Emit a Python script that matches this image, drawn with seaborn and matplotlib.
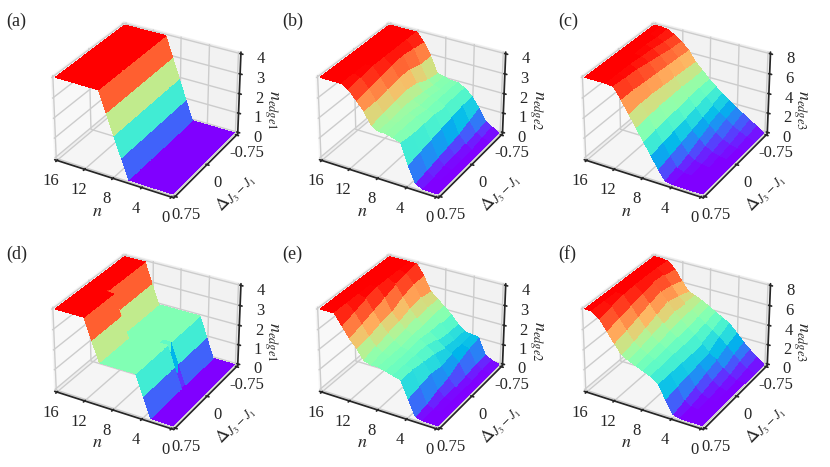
import numpy as np
import matplotlib
matplotlib.use("Agg")
import matplotlib.pyplot as plt
import seaborn as sns

# n axis (0..16) and Delta_{J3-J1} grid
n_vals = [0, 1, 2, 3, 4, 5, 6, 7, 8, 9, 10, 11, 12, 13, 14, 15, 16]
delta7 = [-0.75, -0.5, -0.25, 0.0, 0.25, 0.5, 0.75]

# (a) n_edge1, same profile for every Delta
a_profile = [0, 0, 0, 0, 0, 0, 0, 1, 2, 3, 4, 4, 4, 4, 4, 4, 4]

# (b) n_edge2, rows from Delta=-0.75 to 0.75
b_table = [
    [0, 0.2, 0.4, 1.0, 1.5, 1.8, 2.0, 2.0, 2.1, 2.2, 3.0, 3.6, 4, 4, 4, 4, 4],
    [0, 0.1, 0.3, 0.8, 1.5, 1.8, 2.0, 2.0, 2.1, 2.3, 3.0, 3.7, 4, 4, 4, 4, 4],
    [0, 0, 0.2, 0.6, 1.4, 1.8, 2.0, 2.1, 2.2, 2.6, 3.2, 3.8, 4, 4, 4, 4, 4],
    [0, 0, 0.1, 0.5, 1.3, 1.9, 2.0, 2.1, 2.3, 2.7, 3.2, 3.7, 4, 4, 4, 4, 4],
    [0, 0, 0.1, 0.4, 1.2, 1.9, 2.1, 2.2, 2.3, 2.6, 3.1, 3.6, 4, 4, 4, 4, 4],
    [0, 0, 0, 0.3, 1.1, 1.9, 2.1, 2.2, 2.2, 2.5, 3.0, 3.5, 3.9, 4, 4, 4, 4],
    [0, 0, 0, 0.2, 1.0, 2.0, 2.1, 2.2, 2.2, 2.4, 3.0, 3.4, 3.8, 4, 4, 4, 4],
]

# (c) n_edge3
c_table = [
    [0, 0.45, 0.9, 1.35, 1.8, 2.3, 2.8, 3.4, 4.0, 4.7, 5.4, 6.4, 7.0, 7.5, 7.9, 8, 8],
    [0, 0.3, 0.6, 1.0, 1.5, 2.0, 2.6, 3.3, 4.0, 4.7, 5.5, 6.5, 7.1, 7.6, 7.9, 8, 8],
    [0, 0.1, 0.3, 0.6, 1.1, 1.7, 2.3, 3.1, 3.9, 4.8, 5.6, 6.6, 7.3, 7.8, 8, 8, 8],
    [0, 0, 0.1, 0.3, 0.7, 1.3, 2.0, 2.9, 3.8, 4.8, 5.7, 6.7, 7.5, 7.9, 8, 8, 8],
    [0, 0, 0, 0.1, 0.3, 0.8, 1.7, 2.7, 3.7, 4.8, 5.8, 6.8, 7.7, 8, 8, 8, 8],
    [0, 0, 0, 0, 0.1, 0.4, 1.4, 2.5, 3.6, 4.7, 5.8, 6.9, 7.8, 8, 8, 8, 8],
    [0, 0, 0, 0, 0, 0.1, 1.1, 2.3, 3.4, 4.6, 5.7, 6.9, 7.9, 8, 8, 8, 8],
]

# (d) n_edge1, built from three row profiles
d_back = [0, 0, 0, 0, 1, 2, 2, 2, 2, 2, 2, 2, 3, 4, 4, 4, 4]
d_vee = [0, 0, 0, 0, 0, 1, 2, 2, 2, 2, 2, 2, 3, 4, 4, 4, 4]
d_front = [0, 0, 0, 0, 1, 2, 2, 2, 2, 2, 2, 3, 4, 4, 4, 4, 4]
d_delta = [-0.75, -0.04, 0.0, 0.04, 0.08, 0.12, 0.75]
d_rows = [d_back, d_back, d_vee, d_back, d_back, d_front, d_front]

# (e) n_edge2
e_table = [
    [0, 0.1, 0.3, 1.1, 1.15, 1.2, 1.5, 1.9, 2.2, 2.5, 2.8, 3.5, 4, 4, 4, 4, 4],
    [0, 0.1, 0.3, 1.0, 1.1, 1.2, 1.5, 1.9, 2.2, 2.5, 2.9, 3.5, 3.9, 4, 4, 4, 4],
    [0, 0, 0.2, 0.8, 1.1, 1.3, 1.6, 1.9, 2.1, 2.4, 2.8, 3.3, 3.8, 4, 4, 4, 4],
    [0, 0, 0.1, 0.5, 1.0, 1.5, 1.8, 2.0, 2.1, 2.3, 2.6, 3.0, 3.6, 4, 4, 4, 4],
    [0, 0, 0.1, 0.4, 1.1, 1.6, 1.8, 1.9, 2.0, 2.2, 2.5, 2.9, 3.4, 3.9, 4, 4, 4],
    [0, 0, 0, 0.2, 1.0, 1.7, 1.8, 1.9, 2.0, 2.1, 2.3, 2.7, 3.2, 3.7, 4, 4, 4],
    [0, 0, 0, 0.1, 0.9, 1.7, 1.8, 1.9, 2.0, 2.0, 2.1, 2.6, 3.0, 3.5, 4, 4, 4],
]

# (f) n_edge3
f_table = [
    [0, 0.5, 1.1, 1.75, 2.5, 3.2, 3.6, 4.0, 4.4, 4.8, 5.1, 5.4, 6.3, 7.3, 7.9, 8, 8],
    [0, 0.3, 0.8, 1.4, 2.1, 2.7, 3.2, 3.7, 4.2, 4.7, 5.2, 5.8, 6.7, 7.5, 8, 8, 8],
    [0, 0.1, 0.4, 0.9, 1.6, 2.1, 2.8, 3.5, 4.0, 4.6, 5.3, 6.1, 6.9, 7.6, 8, 8, 8],
    [0, 0, 0.2, 0.6, 1.3, 2.0, 2.8, 3.4, 3.9, 4.4, 5.0, 5.7, 6.6, 7.4, 8, 8, 8],
    [0, 0, 0, 0.3, 0.9, 1.9, 2.8, 3.4, 3.8, 4.2, 4.7, 5.3, 6.2, 7.1, 7.9, 8, 8],
    [0, 0, 0, 0.1, 0.5, 1.7, 2.8, 3.3, 3.7, 4.0, 4.4, 4.9, 5.8, 6.8, 7.7, 8, 8],
    [0, 0, 0, 0, 0.2, 1.5, 2.8, 3.3, 3.6, 3.9, 4.2, 4.6, 5.5, 6.5, 7.5, 8, 8],
]

n_ticks = [0, 4, 8, 12, 16]
delta_ticks = [-0.75, 0, 0.75]
delta_ticklabels = ["-0.75", "0", "0.75"]

sns.set_theme(style="white")
plt.rcParams['font.family'] = ['Liberation Serif', 'DejaVu Serif']
plt.rcParams['mathtext.fontset'] = 'stix'
cmap = sns.color_palette("rainbow", as_cmap=True)

panels = [
    ("(a)", delta7, [a_profile] * 7, 4, r"$n_{edge1}$"),
    ("(b)", delta7, b_table, 4, r"$n_{edge2}$"),
    ("(c)", delta7, c_table, 8, r"$n_{edge3}$"),
    ("(d)", d_delta, d_rows, 4, r"$n_{edge1}$"),
    ("(e)", delta7, e_table, 4, r"$n_{edge2}$"),
    ("(f)", delta7, f_table, 8, r"$n_{edge3}$"),
]

fig = plt.figure(figsize=(8.3, 4.67), dpi=100)
lefts = [-0.011, 0.308, 0.627]
bottoms = [0.506, 0.01]

for i, (letter, delta, table, zmax, zlabel) in enumerate(panels):
    row, col = divmod(i, 3)
    ax = fig.add_axes([lefts[col], bottoms[row], 0.37, 0.52], projection="3d")
    ax.patch.set_alpha(0)
    N, D = np.meshgrid(n_vals, delta)
    Z = np.array(table, dtype=float)
    ax.plot_surface(N, D, Z, cmap=cmap, rstride=1, cstride=1,
                    linewidth=0, antialiased=False)
    # small pane margin around the data, like older matplotlib
    ax.set_xlim(-16 / 48, 16 + 16 / 48)
    ax.set_ylim(-0.75 - 1.5 / 48, 0.75 + 1.5 / 48)
    ax.set_zlim(-zmax / 48, zmax + zmax / 48)
    ax.set_box_aspect((4, 4, 2.8), zoom=0.86)
    ax.set_xticks(n_ticks)
    ax.set_yticks(delta_ticks)
    ax.set_yticklabels(delta_ticklabels)
    ax.set_zticks(np.arange(0, zmax + 1, zmax // 4))
    ax.tick_params(labelsize=12, pad=0)
    ax.yaxis.set_tick_params(pad=0)
    ax.zaxis.set_tick_params(pad=2)
    ax.set_xlabel(r"$n$", fontsize=13, labelpad=-1)
    ax.set_ylabel(r"$\Delta_{J_3-J_1}$", fontsize=13, labelpad=1)
    ax.zaxis.set_ticks_position("lower")
    ax.grid(True)
    ax.view_init(elev=30, azim=120)
    # z label placed by hand, right of the z tick labels
    fig.text(0.326 + col * 0.319, 0.764 - row * 0.496, zlabel, fontsize=13,
             rotation=-90, ha="center", va="center")
    fig.text(0.008 + col * 0.3325, 0.955 - row * 0.5, letter, fontsize=13,
             va="center", ha="left")

fig.savefig("out.png", dpi=100)
